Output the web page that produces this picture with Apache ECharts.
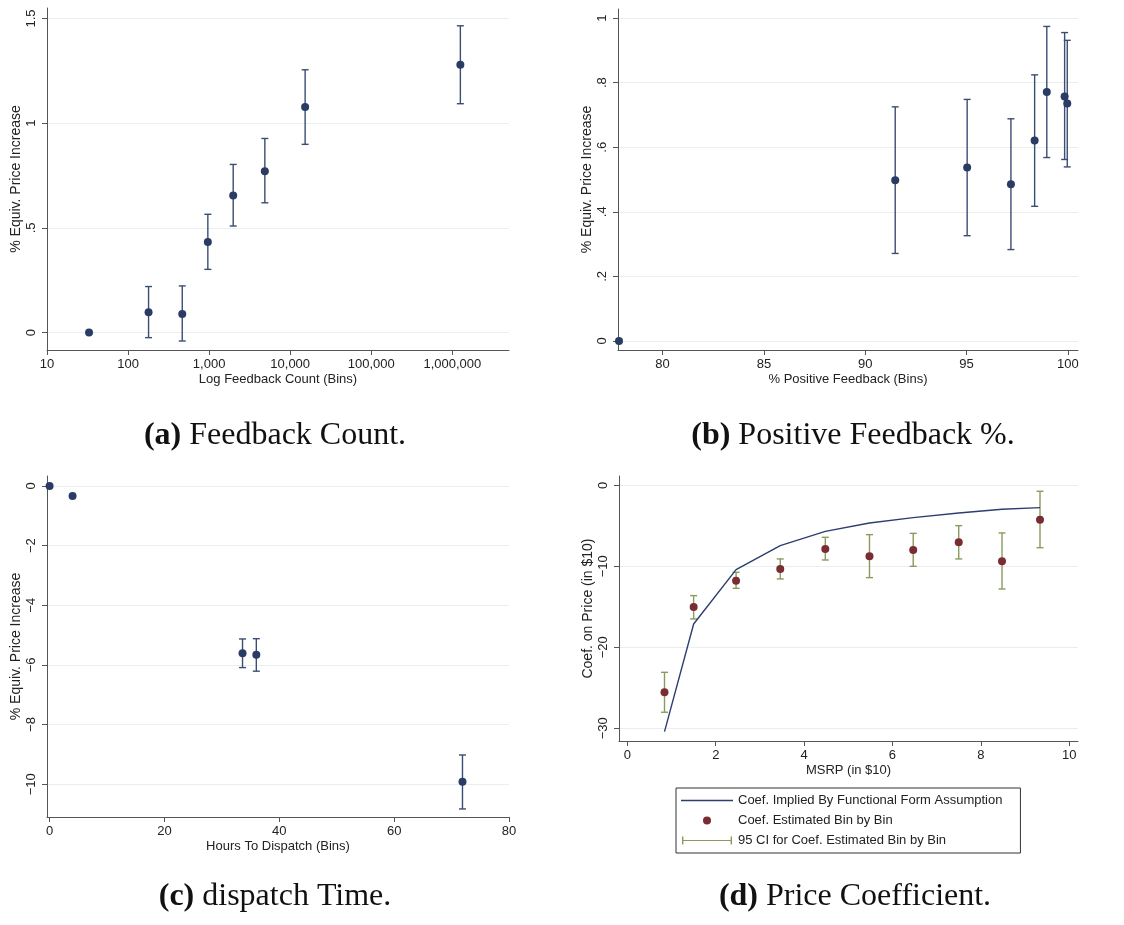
<!DOCTYPE html>
<html>
<head>
<meta charset="utf-8">
<script src="https://cdn.jsdelivr.net/npm/echarts@6/dist/echarts.min.js"></script>
<style>
  html, body { margin: 0; padding: 0; background: #fff; }
  #main { width: 1124px; height: 925px; }
</style>
</head>
<body>
<div id="main"></div>
<script>
// (a) feedback count
const feedbackBins = [33, 179, 466, 964, 1981, 4866, 15280, 1256000];
const feedbackEst = [0, 0.097, 0.089, 0.433, 0.655, 0.771, 1.077, 1.279];
const feedbackLo = [null, -0.024, -0.040, 0.302, 0.509, 0.620, 0.899, 1.093];
const feedbackHi = [null, 0.220, 0.223, 0.565, 0.803, 0.927, 1.255, 1.465];

// (b) positive feedback %
const positiveBins = [77.85, 91.48, 95.03, 97.19, 98.36, 98.96, 99.84, 99.97];
const positiveEst = [0, 0.498, 0.537, 0.485, 0.621, 0.771, 0.757, 0.735];
const positiveLo = [null, 0.271, 0.326, 0.283, 0.417, 0.568, 0.562, 0.539];
const positiveHi = [null, 0.725, 0.748, 0.688, 0.824, 0.974, 0.955, 0.931];

// (c) dispatch time
const dispatchBins = [0, 4, 33.6, 36.0, 71.9];
const dispatchEst = [0, -0.335, -5.61, -5.66, -9.92];
const dispatchLo = [null, null, -6.09, -6.21, -10.83];
const dispatchHi = [null, null, -5.13, -5.12, -9.02];

// (d) price coefficient
const msrpBins = [0.84, 1.50, 2.46, 3.46, 4.48, 5.48, 6.47, 7.50, 8.48, 9.34];
const impliedCoef = [-30.41, -17.12, -10.41, -7.45, -5.68, -4.65, -3.99, -3.42, -2.96, -2.76];
const binCoef = [-25.56, -15.02, -11.77, -10.33, -7.86, -8.77, -7.98, -7.04, -9.38, -4.24];
const binLo = [-28.02, -16.50, -12.72, -11.56, -9.22, -11.40, -10.00, -9.09, -12.80, -7.70];
const binHi = [-23.09, -13.62, -10.74, -9.09, -6.42, -6.09, -5.93, -4.98, -5.88, -0.74];

// tick labels
const ticksA_y = [0, 0.5, 1, 1.5];
const ticksB_x = [80, 85, 90, 95, 100];
const ticksB_y = [0, 0.2, 0.4, 0.6, 0.8, 1];
const ticksC_x = [0, 20, 40, 60, 80];
const ticksC_y = [0, -2, -4, -6, -8, -10];
const ticksD_x = [0, 2, 4, 6, 8, 10];
const ticksD_y = [0, -10, -20, -30];

const captions = [
  ['(a)', ' Feedback Count.'],
  ['(b)', ' Positive Feedback %.'],
  ['(c)', ' dispatch Time.'],
  ['(d)', ' Price Coefficient.']
];

const NAVY = '#2a3c63';
const NAVY_BAR = '#3b4d73';
const MAROON = '#7a2c33';
const OLIVE = '#8a9b5e';
const LINE = '#2c3e70';
const SANS = 'Liberation Sans, Arial, sans-serif';
const SERIF = 'Liberation Serif, DejaVu Serif, serif';

const chart = echarts.init(document.getElementById('main'));

function fmt(v) {
  let s = String(+Number(v).toFixed(6));
  s = s.replace(/^(-?)0\./, '$1.');
  return s.replace('-', '\u2212');
}

function pairs(xs, ys) {
  return xs.map((x, i) => [x, ys[i]]);
}

function bars(xs, lo, hi) {
  const out = [];
  xs.forEach((x, i) => {
    if (lo[i] != null) out.push([x, lo[i], hi[i]]);
  });
  return out;
}

function errRender(params, api) {
  const x = api.value(0);
  const bot = api.coord([x, api.value(1)]);
  const top = api.coord([x, api.value(2)]);
  const w = 3.5;
  const style = { stroke: api.visual('color'), lineWidth: 1.4, fill: null };
  return {
    type: 'group',
    children: [
      { type: 'line', shape: { x1: top[0], y1: top[1], x2: bot[0], y2: bot[1] }, style: style },
      { type: 'line', shape: { x1: top[0] - w, y1: top[1], x2: top[0] + w, y2: top[1] }, style: style },
      { type: 'line', shape: { x1: bot[0] - w, y1: bot[1], x2: bot[0] + w, y2: bot[1] }, style: style }
    ]
  };
}

const axisLine = { show: true, onZero: false, lineStyle: { color: '#555', width: 1 } };
const axisTick = { show: true, length: 5, lineStyle: { color: '#555' } };
const gridLine = { show: true, lineStyle: { color: '#e8eff1', width: 1 } };
const xNameStyle = { fontFamily: SANS, fontSize: 13, color: '#222' };
const yNameStyle = { fontFamily: SANS, fontSize: 14, color: '#222' };

function xAxis(grid, name, min, max, ticks) {
  return {
    gridIndex: grid, type: 'value', min: min, max: max,
    name: name, nameLocation: 'middle', nameGap: 23, nameTextStyle: xNameStyle,
    axisLine: axisLine,
    axisTick: Object.assign({ customValues: ticks }, axisTick),
    axisLabel: { customValues: ticks, formatter: fmt, margin: 8, fontFamily: SANS, fontSize: 13, color: '#222' },
    splitLine: { show: false }
  };
}

function yAxis(grid, name, min, max, ticks) {
  return {
    gridIndex: grid, type: 'value', min: min, max: max,
    name: name, nameLocation: 'middle', nameGap: 24, nameTextStyle: yNameStyle,
    axisLine: axisLine,
    axisTick: Object.assign({ customValues: ticks }, axisTick),
    axisLabel: { customValues: ticks, formatter: fmt, rotate: 90, margin: 9, fontFamily: SANS, fontSize: 13, color: '#222' },
    splitLine: gridLine
  };
}

function capText(i, x, y) {
  return {
    type: 'text', x: x, y: y,
    style: {
      text: '{b|' + captions[i][0] + '}{n|' + captions[i][1] + '}',
      align: 'center', verticalAlign: 'middle',
      rich: {
        b: { fontFamily: SERIF, fontSize: 32, fontWeight: 'bold', fill: '#111' },
        n: { fontFamily: SERIF, fontSize: 32, fill: '#111' }
      }
    }
  };
}

const L1 = 'Coef. Implied By Functional Form Assumption';
const L2 = 'Coef. Estimated Bin by Bin';
const L3 = '95 CI for Coef. Estimated Bin by Bin';

const option = {
  backgroundColor: '#fff',
  animation: false,
  grid: [
    { left: 47, top: 8, width: 462, height: 342 },
    { left: 618, top: 9, width: 460, height: 341 },
    { left: 47, top: 476, width: 462, height: 341 },
    { left: 619, top: 476, width: 459, height: 265 }
  ],
  xAxis: [
    {
      gridIndex: 0, type: 'log', logBase: 10, min: 10, max: 5000000,
      name: 'Log Feedback Count (Bins)', nameLocation: 'middle', nameGap: 23, nameTextStyle: xNameStyle,
      axisLine: axisLine, axisTick: axisTick,
      axisLabel: {
        margin: 8, fontFamily: SANS, fontSize: 13, color: '#222', showMaxLabel: false,
        formatter: function (v) {
          const l = Math.log10(v);
          if (Math.abs(l - Math.round(l)) > 1e-6) return '';
          return Math.round(v).toLocaleString('en-US');
        }
      },
      splitLine: { show: false }
    },
    xAxis(1, '% Positive Feedback (Bins)', 77.8, 100.5, ticksB_x),
    xAxis(2, 'Hours To Dispatch (Bins)', -0.45, 80, ticksC_x),
    xAxis(3, 'MSRP (in $10)', -0.19, 10.2, ticksD_x)
  ],
  yAxis: [
    yAxis(0, '% Equiv. Price Increase', -0.083, 1.55, ticksA_y),
    yAxis(1, '% Equiv. Price Increase', -0.028, 1.028, ticksB_y),
    yAxis(2, '% Equiv. Price Increase', -11.1, 0.335, ticksC_y),
    yAxis(3, 'Coef. on Price (in $10)', -31.57, 1.15, ticksD_y)
  ],
  legend: {
    data: [
      { name: L1, icon: 'path://M0,0H50V1.4H0Z' },
      { name: L2, icon: 'circle' },
      { name: L3, icon: 'path://M0,0H1.4V8H0Z M0,3.4H50V4.6H0Z M48.6,0H50V8H48.6Z' }
    ],
    orient: 'vertical', left: 676, top: 788,
    itemWidth: 52, itemHeight: 8, itemGap: 7,
    padding: [6, 18, 6, 5],
    borderColor: '#333', borderWidth: 1,
    selectedMode: false,
    textStyle: { fontFamily: SANS, fontSize: 13, color: '#222' }
  },
  graphic: [
    capText(0, 275, 436),
    capText(1, 853, 436),
    capText(2, 275, 897),
    capText(3, 855, 897)
  ],
  series: [
    { type: 'custom', xAxisIndex: 0, yAxisIndex: 0, renderItem: errRender, itemStyle: { color: NAVY_BAR },
      encode: { x: 0, y: [1, 2] }, data: bars(feedbackBins, feedbackLo, feedbackHi) },
    { type: 'scatter', xAxisIndex: 0, yAxisIndex: 0, symbolSize: 8, itemStyle: { color: NAVY, opacity: 1 },
      data: pairs(feedbackBins, feedbackEst) },

    { type: 'custom', xAxisIndex: 1, yAxisIndex: 1, renderItem: errRender, itemStyle: { color: NAVY_BAR },
      encode: { x: 0, y: [1, 2] }, data: bars(positiveBins, positiveLo, positiveHi) },
    { type: 'scatter', xAxisIndex: 1, yAxisIndex: 1, symbolSize: 8, itemStyle: { color: NAVY, opacity: 1 },
      data: pairs(positiveBins, positiveEst) },

    { type: 'custom', xAxisIndex: 2, yAxisIndex: 2, renderItem: errRender, itemStyle: { color: NAVY_BAR },
      encode: { x: 0, y: [1, 2] }, data: bars(dispatchBins, dispatchLo, dispatchHi) },
    { type: 'scatter', xAxisIndex: 2, yAxisIndex: 2, symbolSize: 8, itemStyle: { color: NAVY, opacity: 1 },
      data: pairs(dispatchBins, dispatchEst) },

    { name: L3, type: 'custom', xAxisIndex: 3, yAxisIndex: 3, renderItem: errRender, itemStyle: { color: OLIVE },
      encode: { x: 0, y: [1, 2] }, data: bars(msrpBins, binLo, binHi) },
    { name: L2, type: 'scatter', xAxisIndex: 3, yAxisIndex: 3, symbolSize: 8, itemStyle: { color: MAROON, opacity: 1 },
      data: pairs(msrpBins, binCoef) },
    { name: L1, type: 'line', xAxisIndex: 3, yAxisIndex: 3, symbol: 'none', lineStyle: { color: LINE, width: 1.4 },
      itemStyle: { color: LINE }, data: pairs(msrpBins, impliedCoef) }
  ]
};

chart.setOption(option);
</script>
</body>
</html>
